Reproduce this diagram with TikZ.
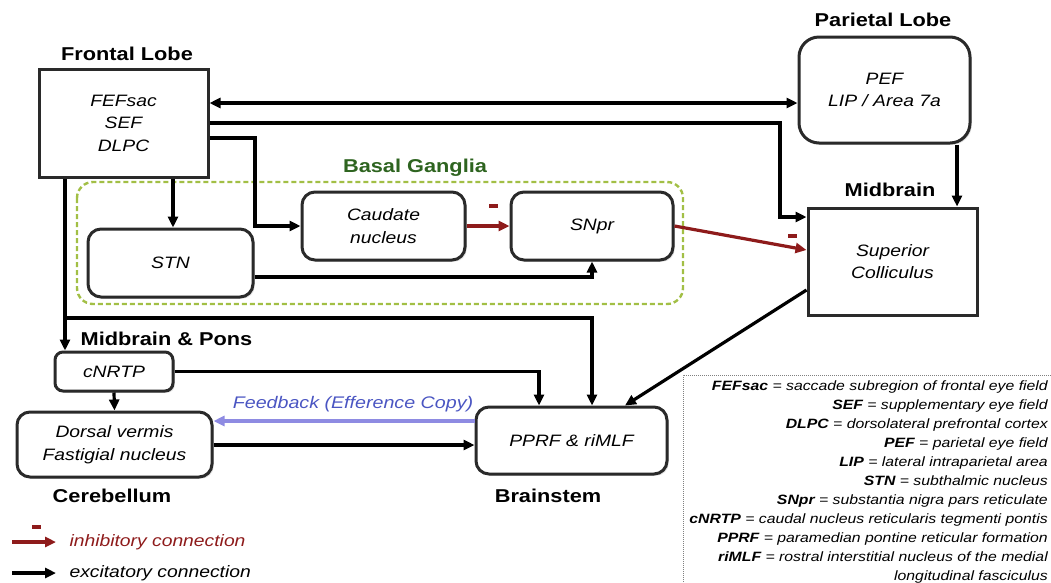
\documentclass[tikz,border=0pt]{standalone}
\usepackage{fontspec}
\setmainfont[FakeStretch=1.17]{Liberation Sans}
\usetikzlibrary{arrows.meta,shadows}
\definecolor{inhred}{HTML}{8E1B1B}
\definecolor{bggreen}{HTML}{A2BF45}
\definecolor{bgtitle}{HTML}{2E6420}
\definecolor{fbtext}{HTML}{4A55C2}
\definecolor{fbline}{HTML}{8E8BE2}
\definecolor{boxline}{HTML}{2A2A2A}
\tikzset{
  region/.style={draw=boxline, line width=3pt, fill=white, inner sep=0pt,
    align=center, font=\fontsize{16.5}{22.5}\selectfont\itshape,
    drop shadow={opacity=0.25, shadow xshift=1.8pt, shadow yshift=-1.8pt}},
  sqbox/.style={region},
  rbox/.style={region, rounded corners=13pt},
  title/.style={anchor=base, font=\fontsize{18.6}{22}\selectfont\bfseries},
  tip/.style={-{Triangle[length=11pt,width=10pt]}},
  exc/.style={line width=3.2pt, draw=black, tip},
  inh/.style={line width=3.2pt, draw=inhred, tip},
  fb/.style={line width=3.2pt, draw=fbline, tip},
  minus/.style={fill=inhred, minimum width=9pt, minimum height=3.6pt, inner sep=0pt},
}
\begin{document}
\begin{tikzpicture}[x=1pt,y=-1pt]
\useasboundingbox (0,0) rectangle (1051,582);

% basal ganglia group outline
\draw[bggreen, line width=2.4pt, dash pattern=on 5pt off 3pt, rounded corners=16pt]
  (77,182) rectangle (683,304);
\node[title, text=bgtitle] (bgt) at (415,172) {Basal Ganglia};

% regions
\node[sqbox, minimum width=169pt, minimum height=108pt] (frontal) at (123.5,123)
  {FEFsac\\SEF\\DLPC};
\node[rbox, rounded corners=20pt, minimum width=171pt, minimum height=106pt] (parietal) at (884.5,90)
  {PEF\\LIP / Area 7a};
\node[sqbox, minimum width=169pt, minimum height=107pt] (sc) at (892.5,261.5)
  {Superior\\Colliculus};
\node[rbox, minimum width=165pt, minimum height=68pt] (stn) at (170.5,263) {STN};
\node[rbox, minimum width=163pt, minimum height=68pt] (caudate) at (383.5,226)
  {Caudate\\nucleus};
\node[rbox, minimum width=162pt, minimum height=68pt] (snpr) at (592,226) {SNpr};
\node[rbox, rounded corners=8pt, minimum width=118pt, minimum height=39pt] (cnrtp) at (114,371.5) {cNRTP};
\node[rbox, minimum width=195pt, minimum height=65pt] (cereb) at (114.5,444.5)
  {Dorsal vermis\\Fastigial nucleus};
\node[rbox, minimum width=191pt, minimum height=67pt] (pprf) at (571.5,440.5) {PPRF \& riMLF};

% group titles
\node[title] (tfrontal) at (127,60) {Frontal Lobe};
\node[title] (tparietal) at (883,26.7) {Parietal Lobe};
\node[title] (tmid) at (890,196.7) {Midbrain};
\node[title] (tmp) at (166.5,345) {Midbrain \& Pons};
\node[title] (tcereb) at (112,502.7) {Cerebellum};
\node[title] (tbrain) at (548,502.7) {Brainstem};

% excitatory projections
\draw[line width=3.2pt, {Triangle[length=11pt,width=10pt]}-{Triangle[length=11pt,width=10pt]}]
  (frontal.east |- 0,103) -- (parietal.west |- 0,103);
\draw[exc] (frontal.east |- 0,123) -| (780,217) -- (sc.west |- 0,217);
\draw[exc] (frontal.east |- 0,138) -| (caudate.west -| 255,0) -- (caudate.west);
\draw[exc] (frontal.south -| 173,0) -- (stn.north -| 173,0);
\draw[exc] (frontal.south -| 65,0) -- (cnrtp.north -| 65,0);
\draw[exc] (65,318) -| (pprf.north -| 592,0);
\draw[exc] (stn.east |- 0,277) -| (snpr.south);
\draw[exc] (parietal.south -| 957,0) -- (sc.north -| 957,0);
\draw[exc] (sc.west |- 0,290) -- (pprf.north -| 625,0);
\draw[exc] (cnrtp.east) -| (pprf.north -| 539,0);
\draw[exc] (cnrtp.south) -- (cereb.north);
\draw[exc] (cereb.east |- 0,445) -- (pprf.west |- 0,445);

% inhibitory projections
\draw[inh] (caudate.east) -- (snpr.west);
\node[minus] (m1) at (493,206) {};
\draw[inh] (snpr.east) -- (sc.west |- 0,250);
\node[minus] (m2) at (792,236) {};

% efference copy
\draw[fb] (pprf.west |- 0,421) -- (cereb.east |- 0,421);
\node[font=\fontsize{16.8}{20}\selectfont\itshape, text=fbtext, anchor=base] (fbl) at (353,408)
  {Feedback (Efference Copy)};

% connection key
\coordinate (ia) at (12,542);
\coordinate (ib) at (56,542);
\coordinate (ea) at (12,573);
\coordinate (eb) at (56,573);
\node[minus] (m3) at (36,527) {};
\draw[inh] (ia) -- (ib);
\draw[exc] (ea) -- (eb);
\node[anchor=west, font=\fontsize{16.5}{20}\selectfont\itshape, text=inhred] (kinh) at (66,542)
  {inhibitory connection};
\node[anchor=west, font=\fontsize{16.5}{20}\selectfont\itshape] (kexc) at (66,573)
  {excitatory connection};

% abbreviations
\draw[gray, line width=0.9pt, dash pattern=on 1pt off 1pt] (683,600) -- (683,375) -- (1070,375);
\node[anchor=north east, align=right, inner sep=0pt,
      font=\fontsize{13.5}{19}\selectfont\itshape] (abbr) at (1048,381)
 {\textbf{FEFsac} = saccade subregion of frontal eye field\\
  \textbf{SEF} = supplementary eye field\\
  \textbf{DLPC} = dorsolateral prefrontal cortex\\
  \textbf{PEF} = parietal eye field\\
  \textbf{LIP} = lateral intraparietal area\\
  \textbf{STN} = subthalmic nucleus\\
  \textbf{SNpr} = substantia nigra pars reticulate\\
  \textbf{cNRTP} = caudal nucleus reticularis tegmenti pontis\\
  \textbf{PPRF} = paramedian pontine reticular formation\\
  \textbf{riMLF} = rostral interstitial nucleus of the medial\\
  longitudinal fasciculus};
\end{tikzpicture}
\end{document}
